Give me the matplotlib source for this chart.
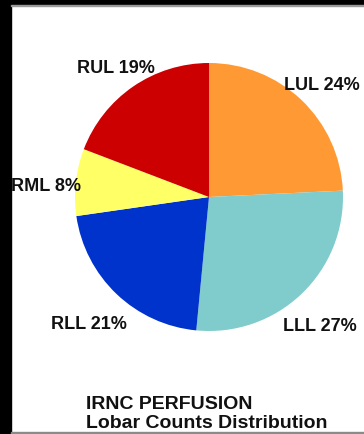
import numpy as np
import matplotlib.pyplot as plt
from matplotlib.patches import Rectangle

# доли долей лёгких, по часовой стрелке от вертикали
lobes = ['LUL', 'LLL', 'RLL', 'RML', 'RUL']
percents = [24, 27, 21, 8, 19]
colors = ['#FF9933', '#80CCCC', '#0033CC', '#FFFF66', '#CC0000']
label_r = [1.19, 1.27, 1.30, 1.22, 1.19]   # удаление подписей от центра
label_da = [-1.4, -2.9, 0.0, 2.2, 1.1]     # поправка угла подписи, градусы
title_lines = ['IRNC PERFUSION', 'Lobar Counts Distribution']

plt.rcParams['font.family'] = ['Liberation Sans', 'DejaVu Sans']

fig = plt.figure(figsize=(3.64, 4.35), dpi=100, facecolor='white')

# чёрная рамка слева и сверху, серая линия снизу
fig.patches.append(Rectangle((0, 0), 11 / 364, 1, transform=fig.transFigure,
                             color='black', zorder=0))
fig.patches.append(Rectangle((0, 1 - 6 / 435), 1, 6 / 435, transform=fig.transFigure,
                             color='black', zorder=0))
fig.patches.append(Rectangle((11 / 364, 1 - 7 / 435), 1, 1 / 435, transform=fig.transFigure,
                             color='#9a9a9a', zorder=0))
fig.patches.append(Rectangle((11 / 364, 0), 1, 2 / 435, transform=fig.transFigure,
                             color='#8a8a8a', zorder=0))

ax = fig.add_axes([75 / 364, 103 / 435, 268 / 364, 268 / 435])
labels = [f'{n} {p}%' for n, p in zip(lobes, percents)]
wedges, texts = ax.pie(percents, colors=colors, startangle=90, counterclock=False,
                       labels=labels, radius=1,
                       textprops=dict(fontsize=13, fontweight='bold', color='#111111'))

# подписи по центру на биссектрисе каждого сектора
for w, t, r, da in zip(wedges, texts, label_r, label_da):
    a = np.deg2rad((w.theta1 + w.theta2) / 2 + da)
    t.set_position((r * np.cos(a), r * np.sin(a)))
    t.set_ha('center')
    t.set_va('center')

ax.set_xlim(-1, 1)
ax.set_ylim(-1, 1)
ax.set_aspect('equal')
ax.axis('off')

fig.text(86 / 364, 1 - 409 / 435, title_lines[0], fontsize=14, fontweight='bold',
         color='#111111', va='baseline')
fig.text(86 / 364, 1 - 428 / 435, title_lines[1], fontsize=14, fontweight='bold',
         color='#111111', va='baseline')

fig.savefig('out.png', dpi=100, facecolor='white')
